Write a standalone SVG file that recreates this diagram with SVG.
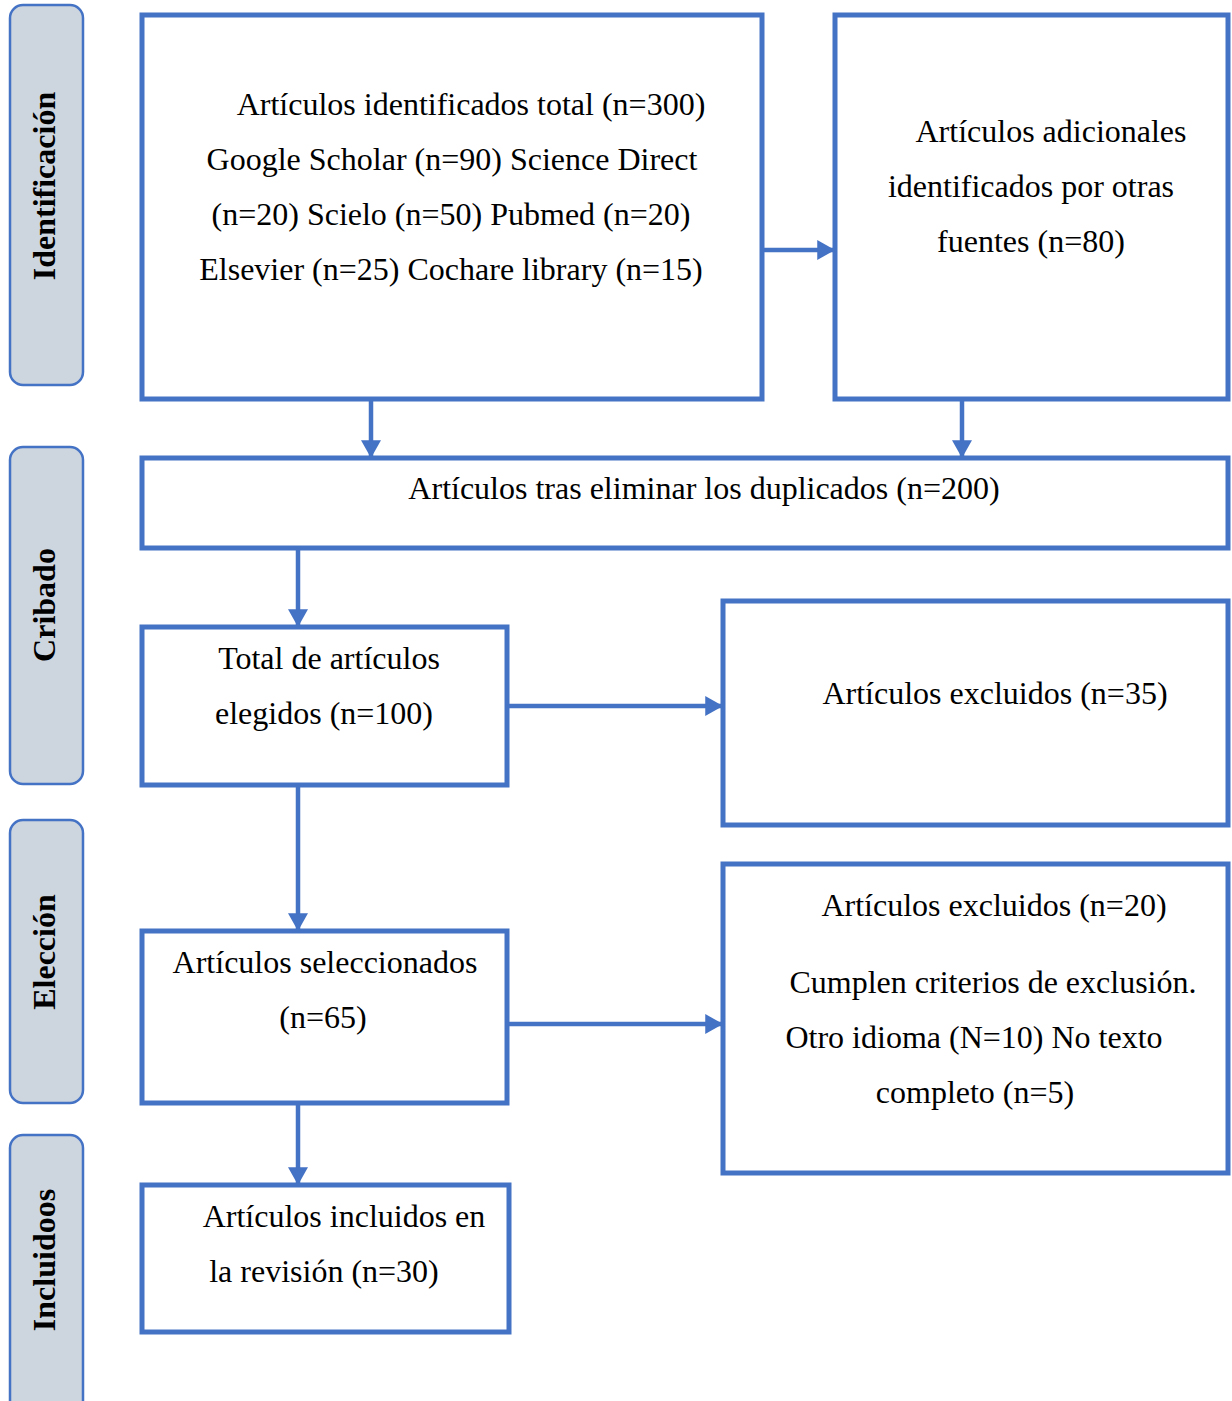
<svg xmlns="http://www.w3.org/2000/svg" width="1232" height="1401" viewBox="0 0 1232 1401">
<style>
.side{fill:#CDD5DF;stroke:#4472C4;stroke-width:2.5}
.box{fill:#fff;stroke:#4472C4;stroke-width:5}
.t{font-family:"Liberation Serif","Times New Roman",serif;font-size:32px;fill:#000;text-anchor:middle}
.s{font-family:"Liberation Serif","Times New Roman",serif;font-size:32px;font-weight:bold;fill:#000;text-anchor:middle}
.c{stroke:#4472C4;stroke-width:4.5;fill:none;marker-end:url(#ah)}
</style>
<defs>
<marker id="ah" markerUnits="userSpaceOnUse" markerWidth="20" markerHeight="20" viewBox="0 0 16 18" refX="16" refY="9" orient="auto">
<path d="M0,0 L16,9 L0,18 Z" fill="#4472C4"/>
</marker>
</defs>
<rect width="1232" height="1401" fill="#fff"/>
<g id="side-identificacion"><rect class="side" x="10" y="5" width="73" height="380" rx="13"/><text class="s" transform="translate(55,186) rotate(-90)">Identificación</text></g>
<g id="side-cribado"><rect class="side" x="10" y="447" width="73" height="337" rx="13"/><text class="s" transform="translate(55,605) rotate(-90)">Cribado</text></g>
<g id="side-eleccion"><rect class="side" x="10" y="820" width="73" height="283" rx="13"/><text class="s" transform="translate(55,952) rotate(-90)">Elección</text></g>
<g id="side-incluidos"><rect class="side" x="10" y="1135" width="73" height="280" rx="13"/><text class="s" transform="translate(55,1260) rotate(-90)">Incluidoos</text></g>

<g id="connectors">
<line class="c" x1="762" y1="250" x2="835" y2="250"/>
<line class="c" x1="371" y1="399" x2="371" y2="458"/>
<line class="c" x1="962" y1="399" x2="962" y2="458"/>
<line class="c" x1="298" y1="548" x2="298" y2="627"/>
<line class="c" x1="507" y1="706" x2="723" y2="706"/>
<line class="c" x1="298" y1="785" x2="298" y2="931"/>
<line class="c" x1="507" y1="1024" x2="723" y2="1024"/>
<line class="c" x1="298" y1="1103" x2="298" y2="1185"/>
</g>

<g id="n1"><rect class="box" x="142" y="15" width="620" height="384"/>
<text class="t" x="471" y="115">Artículos identificados total (n=300)</text>
<text class="t" x="452" y="170">Google Scholar (n=90) Science Direct</text>
<text class="t" x="451" y="225">(n=20) Scielo (n=50) Pubmed (n=20)</text>
<text class="t" x="451" y="280">Elsevier (n=25) Cochare library (n=15)</text></g>
<g id="n2"><rect class="box" x="835" y="15" width="393" height="384"/>
<text class="t" x="1051" y="142">Artículos adicionales</text>
<text class="t" x="1031" y="197">identificados por otras</text>
<text class="t" x="1031" y="252">fuentes (n=80)</text></g>
<g id="n3"><rect class="box" x="142" y="458" width="1086" height="90"/>
<text class="t" x="704" y="499">Artículos tras eliminar los duplicados (n=200)</text></g>
<g id="n4"><rect class="box" x="142" y="627" width="365" height="158"/>
<text class="t" x="329" y="669">Total de artículos</text>
<text class="t" x="324" y="724">elegidos (n=100)</text></g>
<g id="n5"><rect class="box" x="723" y="601" width="505" height="224"/>
<text class="t" x="995" y="704">Artículos excluidos (n=35)</text></g>
<g id="n6"><rect class="box" x="142" y="931" width="365" height="172"/>
<text class="t" x="325" y="973">Artículos seleccionados</text>
<text class="t" x="323" y="1028">(n=65)</text></g>
<g id="n7"><rect class="box" x="723" y="864" width="505" height="309"/>
<text class="t" x="994" y="916">Artículos excluidos (n=20)</text>
<text class="t" x="993" y="993">Cumplen criterios de exclusión.</text>
<text class="t" x="974" y="1048">Otro idioma (N=10) No texto</text>
<text class="t" x="975" y="1103">completo (n=5)</text></g>
<g id="n8"><rect class="box" x="142" y="1185" width="367" height="147"/>
<text class="t" x="344" y="1227">Artículos incluidos en</text>
<text class="t" x="324" y="1282">la revisión (n=30)</text></g>
</svg>
